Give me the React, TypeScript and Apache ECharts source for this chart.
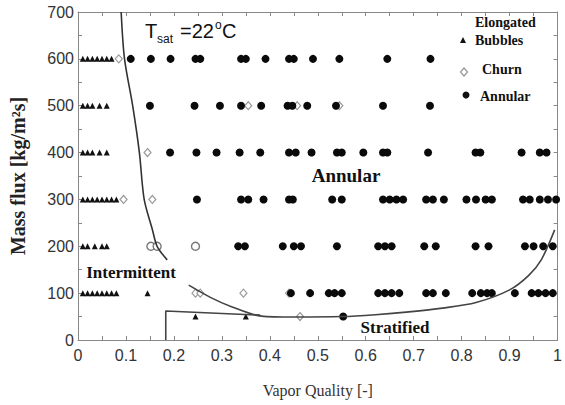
import React, { useEffect, useRef } from "react";
import * as echarts from "echarts";

// ---- Data (vapor quality x, mass flux G) ----
const elongatedBubbles: [number, number][] = [
  [0.01, 600], [0.02, 600], [0.03, 600], [0.04, 600], [0.05, 600], [0.06, 600], [0.07, 600],
  [0.01, 500], [0.02, 500], [0.03, 500], [0.045, 500], [0.06, 500],
  [0.01, 400], [0.02, 400], [0.03, 400], [0.045, 400], [0.06, 400],
  [0.01, 300], [0.02, 300], [0.03, 300], [0.04, 300], [0.05, 300], [0.06, 300], [0.07, 300], [0.08, 300],
  [0.01, 200], [0.02, 200], [0.035, 200], [0.05, 200], [0.06, 200],
  [0.01, 100], [0.02, 100], [0.03, 100], [0.04, 100], [0.05, 100], [0.06, 100], [0.07, 100], [0.08, 100],
  [0.145, 100],
  [0.245, 50], [0.35, 50],
];

const churnDiamond: [number, number][] = [
  [0.085, 600], [0.145, 400], [0.095, 300], [0.155, 300],
  [0.245, 100], [0.255, 100], [0.345, 100], [0.44, 100], [0.463, 50],
  [0.355, 500], [0.457, 500], [0.545, 500],
];

const churnCircle: [number, number][] = [
  [0.152, 200], [0.165, 200], [0.245, 200],
];

const annular600 = [0.11, 0.152, 0.193, 0.245, 0.255, 0.34, 0.35, 0.391, 0.44, 0.45, 0.49, 0.545, 0.645, 0.735];
const annular500 = [0.15, 0.243, 0.296, 0.34, 0.382, 0.437, 0.447, 0.478, 0.538, 0.636, 0.734];
const annular400 = [0.192, 0.247, 0.289, 0.337, 0.38, 0.44, 0.454, 0.487, 0.54, 0.55, 0.595, 0.636, 0.645, 0.73, 0.829, 0.839, 0.925, 0.963, 0.977];
const annular300 = [0.248, 0.34, 0.355, 0.387, 0.44, 0.448, 0.53, 0.55, 0.636, 0.65, 0.664, 0.678, 0.726, 0.74, 0.763, 0.81, 0.83, 0.85, 0.863, 0.928, 0.942, 0.963, 0.98, 0.997];
const annular200 = [0.334, 0.348, 0.427, 0.45, 0.465, 0.54, 0.626, 0.64, 0.654, 0.722, 0.746, 0.829, 0.856, 0.932, 0.95, 0.97, 0.99];
const annular100 = [0.444, 0.484, 0.523, 0.535, 0.55, 0.626, 0.64, 0.654, 0.67, 0.726, 0.74, 0.767, 0.822, 0.84, 0.853, 0.863, 0.911, 0.946, 0.96, 0.975, 0.99];
const annular50 = [0.553];

const transitionUpper: [number, number][] = [
  [0.09, 700], [0.097, 600], [0.114, 500], [0.128, 400], [0.138, 300], [0.155, 236], [0.165, 200], [0.186, 171],
];
const transitionLower: [number, number][] = [
  [0.231, 117], [0.276, 91], [0.32, 71], [0.382, 51], [0.45, 49], [0.55, 50], [0.62, 54], [0.69, 60],
  [0.76, 68], [0.83, 80], [0.9, 107], [0.94, 138], [0.966, 171], [0.994, 235],
];
const stratifiedBox: [number, number][] = [[0.183, 0], [0.183, 62], [0.38, 53]];

const xTickLabels = ["0", "0.1", "0.2", "0.3", "0.4", "0.5", "0.6", "0.7", "0.8", "0.9", "1"];

const rows: [number, number[]][] = [
  [600, annular600], [500, annular500], [400, annular400], [300, annular300],
  [200, annular200], [100, annular100], [50, annular50],
];
const annularData: [number, number][] = [];
rows.forEach(([g, xs]) => xs.forEach((x) => annularData.push([x, g])));

const serif = "'Liberation Serif', 'DejaVu Serif', serif";
const sans = "'Liberation Sans', Arial, sans-serif";

const axisCommon = {
  axisLine: { show: true, onZero: false, lineStyle: { color: "#888", width: 1 } },
  axisTick: { show: true, inside: true, length: 4, lineStyle: { color: "#888" } },
  minorTick: { show: true, splitNumber: 2, length: 4, lineStyle: { color: "#888" } },
  splitLine: { show: false },
};

export default function App() {
  const ref = useRef<HTMLDivElement>(null);
  useEffect(() => {
    const chart = echarts.init(ref.current!, null, { renderer: "svg" });
    const option: any = {
      animation: false,
      backgroundColor: "#fff",
      grid: { left: 78, right: 2, top: 12, bottom: 65 },
      xAxis: [
        {
          type: "value", min: 0, max: 1, interval: 0.1, position: "bottom",
          ...axisCommon,
          axisLabel: {
            color: "#333", fontFamily: sans, fontSize: 16, margin: 7,
            formatter: (v: number) => xTickLabels[Math.round(v * 10)] ?? "",
          },
          name: "Vapor Quality [-]", nameLocation: "middle", nameGap: 42,
          nameTextStyle: { fontFamily: serif, fontSize: 16, color: "#333" },
        },
        {
          type: "value", min: 0, max: 1, interval: 0.1, position: "top",
          ...axisCommon, axisLabel: { show: false },
        },
      ],
      yAxis: [
        {
          type: "value", min: 0, max: 700, interval: 100, position: "left",
          ...axisCommon,
          axisLabel: { color: "#333", fontFamily: sans, fontSize: 16, margin: 4 },
          name: "Mass flux [kg/m²s]", nameLocation: "middle", nameGap: 50,
          nameTextStyle: { fontFamily: serif, fontSize: 20, fontWeight: "bold", color: "#222" },
        },
        {
          type: "value", min: 0, max: 700, interval: 100, position: "right",
          ...axisCommon, axisLabel: { show: false },
        },
      ],
      series: [
        {
          type: "line", data: stratifiedBox, symbol: "none", clip: true,
          lineStyle: { color: "#444", width: 1.6 },
        },
        {
          type: "line", data: transitionUpper, symbol: "none", smooth: 0.3, clip: true,
          lineStyle: { color: "#333", width: 1.6 },
        },
        {
          type: "line", data: transitionLower, symbol: "none", smooth: 0.3, clip: true,
          lineStyle: { color: "#444", width: 1.6 },
        },
        {
          name: "Elongated Bubbles", type: "scatter", data: elongatedBubbles, symbol: "triangle",
          symbolSize: [6, 6], itemStyle: { color: "#111", opacity: 1 },
        },
        {
          name: "Churn", type: "scatter", data: churnDiamond, symbol: "diamond",
          symbolSize: [7, 8], itemStyle: { color: "#fff", borderColor: "#999", borderWidth: 1.2, opacity: 1 },
        },
        {
          name: "Churn", type: "scatter", data: churnCircle, symbol: "circle",
          symbolSize: 8, itemStyle: { color: "#fff", borderColor: "#777", borderWidth: 1.4, opacity: 1 },
        },
        {
          name: "Annular", type: "scatter", data: annularData, symbol: "circle",
          symbolSize: 8, itemStyle: { color: "#0a0a0a", opacity: 1 },
        },
      ],
      graphic: [
        { type: "text", x: 145, y: 41, style: { text: "T", font: `20px ${sans}`, fill: "#111", textVerticalAlign: "bottom" } },
        { type: "text", x: 157, y: 45, style: { text: "sat", font: `12px ${sans}`, fill: "#111", textVerticalAlign: "bottom" } },
        { type: "text", x: 180, y: 41, style: { text: "=22", font: `20px ${sans}`, fill: "#111", textVerticalAlign: "bottom" } },
        { type: "text", x: 215, y: 31, style: { text: "o", font: `12px ${sans}`, fill: "#111", textVerticalAlign: "bottom" } },
        { type: "text", x: 222, y: 41, style: { text: "C", font: `20px ${sans}`, fill: "#111", textVerticalAlign: "bottom" } },

        { type: "text", x: 475, y: 22, style: { text: "Elongated", font: `bold 14px ${serif}`, fill: "#111", textVerticalAlign: "middle" } },
        { type: "polygon", shape: { points: [[463, 37], [460, 43], [466, 43]] }, style: { fill: "#111" } },
        { type: "text", x: 475, y: 40, style: { text: "Bubbles", font: `bold 14px ${serif}`, fill: "#111", textVerticalAlign: "middle" } },
        { type: "polygon", shape: { points: [[464, 68], [467.5, 72], [464, 76], [460.5, 72]] }, style: { fill: "#fff", stroke: "#999", lineWidth: 1.2 } },
        { type: "text", x: 482, y: 69, style: { text: "Churn", font: `bold 14px ${serif}`, fill: "#111", textVerticalAlign: "middle" } },
        { type: "circle", shape: { cx: 466, cy: 95, r: 3.5 }, style: { fill: "#111" } },
        { type: "text", x: 480, y: 96, style: { text: "Annular", font: `bold 14px ${serif}`, fill: "#111", textVerticalAlign: "middle" } },

        { type: "text", x: 346, y: 175, style: { text: "Annular", font: `bold 19px ${serif}`, fill: "#111", textAlign: "center", textVerticalAlign: "middle" } },
        { type: "text", x: 131, y: 272, style: { text: "Intermittent", font: `bold 17px ${serif}`, fill: "#111", textAlign: "center", textVerticalAlign: "middle" } },
        { type: "text", x: 395, y: 327, style: { text: "Stratified", font: `bold 17px ${serif}`, fill: "#111", textAlign: "center", textVerticalAlign: "middle" } },
      ],
    };
    chart.setOption(option);
    return () => chart.dispose();
  }, []);
  return (
    <div
      ref={ref}
      style={{ position: "fixed", left: 0, top: 0, width: 565, height: 405, background: "#fff" }}
    />
  );
}
